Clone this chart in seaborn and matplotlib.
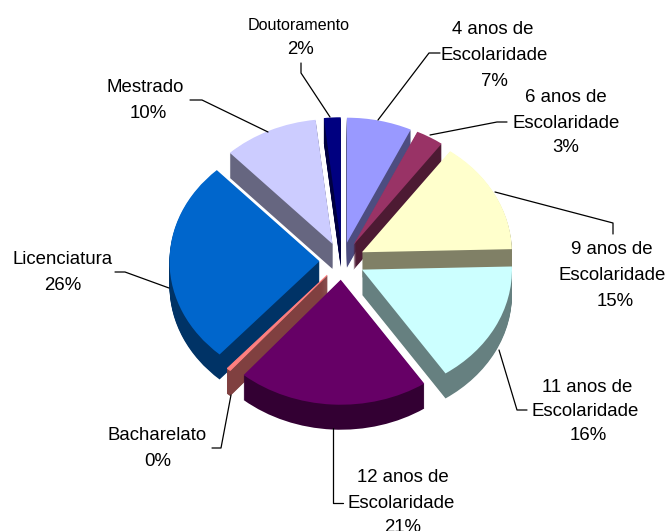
import matplotlib
matplotlib.use("Agg")
import matplotlib.pyplot as plt
import seaborn as sns

sns.set_theme(style="white")
plt.rcParams['font.family'] = ['Liberation Sans', 'DejaVu Sans']

categories = ["4 anos de\nEscolaridade", "6 anos de\nEscolaridade", "9 anos de\nEscolaridade",
              "11 anos de\nEscolaridade", "12 anos de\nEscolaridade", "Bacharelato",
              "Licenciatura", "Mestrado", "Doutoramento"]
values = [7, 3, 14.6, 16, 20.6, 0.4, 26.4, 10.2, 1.8]
percent_labels = ["7%", "3%", "15%", "16%", "21%", "0%", "26%", "10%", "2%"]
colors = ["#9999FF", "#993366", "#FFFFCC", "#CCFFFF", "#660066",
          "#FF8080", "#0066CC", "#CCCCFF", "#000080"]

W, H = 667, 531
CX, CY, RX, RY, DEPTH = 342, 261, 150, 125, 25
draw_order = [8, 7, 0, 1, 2, 6, 3, 5, 4]  # back to front

palette = sns.color_palette(colors)
dark = [tuple(c * 0.5 for c in col) for col in palette]

fig = plt.figure(figsize=(W / 100, H / 100), dpi=100, facecolor="white")
ax = fig.add_axes([0, 0, 1, 1])
explode = [0.15] * len(values)
for d in range(DEPTH, -1, -1):
    wedges, _ = ax.pie(values, explode=explode, radius=1, center=(0, -d / RY),
                       startangle=90, counterclock=False,
                       colors=palette if d == 0 else dark,
                       wedgeprops=dict(linewidth=0))
    for i, w in enumerate(wedges):
        w.set_zorder(10 + draw_order.index(i) * 100 + (DEPTH - d))
    # the sliver is under a pixel wide: give it an outline so that it stays solid
    wedges[5].set_edgecolor(palette[5] if d == 0 else dark[5])
    wedges[5].set_linewidth(0.7)
ax.set_aspect("auto")
ax.set_xlim(-CX / RX, (W - CX) / RX)
ax.set_ylim((CY - H) / RY, CY / RY)
ax.axis("off")

ov = fig.add_axes([0, 0, 1, 1], facecolor="none")
ov.set_xlim(0, W)
ov.set_ylim(H, 0)
ov.axis("off")

label_xy = [[(493, 30), (494, 56), (494, 81)],
            [(566, 98), (566, 123), (566, 148)],
            [(612, 250), (612, 276), (615, 301)],
            [(587, 387), (585, 412), (588, 436)],
            [(403, 478), (401, 503), (403, 528)],
            [(157, 436), (158, 462)],
            [(63, 260), (63, 285)],
            [(145, 88), (148, 114)],
            [(299, 25), (301, 50)]]
for i, (cat, pct) in enumerate(zip(categories, percent_labels)):
    lines = cat.split("\n") + [pct]
    for j, ((x, y), t) in enumerate(zip(label_xy[i], lines)):
        size = 11.6 if t == "Doutoramento" else 13.4
        ov.text(x, y, t, ha="center", va="center", fontsize=size, color="black")

leaders = [[(378, 120), (429, 53), (440, 53)],
           [(430, 135), (497, 122), (507, 122)],
           [(495, 192), (613, 223), (613, 234)],
           [(499, 350), (517, 410), (527, 410)],
           [(333, 428), (333, 503), (343, 503)],
           [(231, 395), (221, 448), (212, 448)],
           [(169, 288), (125, 272), (115, 272)],
           [(268, 132), (202, 100), (190, 100)],
           [(330, 117), (301, 73), (301, 63)]]
for pts in leaders:
    ov.plot([p[0] for p in pts], [p[1] for p in pts], color="black", lw=0.9)

fig.savefig("out.png", dpi=100)
